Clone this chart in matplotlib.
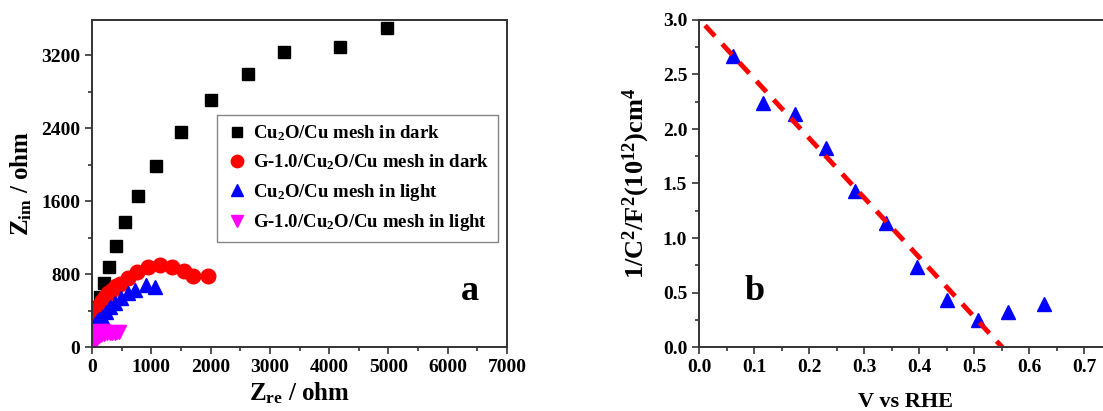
import matplotlib
matplotlib.use("Agg")
import matplotlib.pyplot as plt
from matplotlib.ticker import MultipleLocator
import numpy as np

plt.rcParams['font.family'] = ['Liberation Serif', 'DejaVu Serif']
plt.rcParams['font.weight'] = 'bold'
plt.rcParams['mathtext.fontset'] = 'custom'
plt.rcParams['mathtext.rm'] = 'Liberation Serif:bold'
plt.rcParams['mathtext.bf'] = 'Liberation Serif:bold'
plt.rcParams['mathtext.it'] = 'Liberation Serif:bold'
plt.rcParams['mathtext.default'] = 'bf'

# ---- Panel a: Nyquist data ----
dark_cu2o_re = [22, 67, 130, 207, 287, 405, 556, 770, 1074, 1496, 2002, 2636, 3243, 4182, 4975]
dark_cu2o_im = [315, 442, 551, 705, 877, 1104, 1373, 1652, 1984, 2356, 2704, 2995, 3236, 3291, 3493]

dark_g_re = [10, 25, 45, 70, 100, 135, 175, 220, 275, 335, 400, 467, 602, 754, 949, 1141, 1354, 1546, 1709, 1962]
dark_g_im = [280, 310, 345, 380, 415, 455, 500, 545, 590, 630, 665, 690, 760, 822, 880, 895, 880, 830, 778, 778]

light_cu2o_re = [8, 25, 50, 80, 120, 163, 231, 304, 388, 489, 602, 725, 905, 1062]
light_cu2o_im = [175, 210, 250, 285, 310, 332, 387, 442, 486, 534, 588, 625, 680, 661]

light_g_re = [20, 35, 55, 80, 110, 150, 200, 250, 300, 340, 380, 420, 460, 30, 60, 100, 140, 190]
light_g_im = [20, 45, 75, 100, 120, 135, 145, 150, 152, 155, 158, 160, 165, 160, 165, 168, 170, 170]

labels_a = ['Cu$_2$O/Cu mesh in dark', 'G-1.0/Cu$_2$O/Cu mesh in dark',
            'Cu$_2$O/Cu mesh in light', 'G-1.0/Cu$_2$O/Cu mesh in light']

# ---- Panel b: Mott-Schottky data ----
v_rhe = [0.061, 0.117, 0.174, 0.230, 0.284, 0.339, 0.395, 0.450, 0.506, 0.562, 0.626]
inv_c2 = [2.67, 2.24, 2.14, 1.83, 1.43, 1.14, 0.737, 0.43, 0.248, 0.324, 0.394]
fit_intercept = 3.01
fit_slope = -5.47
fit_range = [0.011, 0.551]

W, H = 1103, 411
fig = plt.figure(figsize=(W / 100, H / 100), dpi=100)

spine_col = '#333333'

def style(ax):
    for s in ax.spines.values():
        s.set_color(spine_col)
        s.set_linewidth(1.4)
    ax.tick_params(which='both', direction='out', color=spine_col, width=1.2,
                   labelsize=14, top=False, right=False)
    ax.tick_params(which='major', length=5)
    ax.tick_params(which='minor', length=3)
    for lab in ax.get_xticklabels() + ax.get_yticklabels():
        lab.set_fontweight('bold')

ax1 = fig.add_axes([92 / W, (H - 347) / H, (507 - 92) / W, (347 - 20) / H])
ax1.plot(dark_cu2o_re, dark_cu2o_im, 's', color='black', ms=9, ls='none', label=labels_a[0])
ax1.plot(dark_g_re, dark_g_im, 'o', color='#ff0000', ms=10.5, ls='none', label=labels_a[1])
ax1.plot(light_cu2o_re, light_cu2o_im, '^', color='#0000ff', ms=10, ls='none', label=labels_a[2])
ax1.plot(light_g_re, light_g_im, 'v', color='#ff00ff', ms=10, ls='none', label=labels_a[3])
ax1.set_xlim(0, 7000)
ax1.set_ylim(0, 3584)
ax1.xaxis.set_major_locator(MultipleLocator(1000))
ax1.xaxis.set_minor_locator(MultipleLocator(500))
ax1.yaxis.set_major_locator(MultipleLocator(800))
ax1.yaxis.set_minor_locator(MultipleLocator(400))
style(ax1)
ax1.set_xlabel('Z$_{re}$ / ohm', fontsize=18, fontweight='bold', labelpad=3)
ax1.set_ylabel('Z$_{im}$ / ohm', fontsize=18, fontweight='bold', labelpad=5)
leg = ax1.legend(loc='upper left', bbox_to_anchor=(0.301, 0.709), borderaxespad=0,
                 fontsize=13.5, frameon=True, fancybox=False, edgecolor='#666666',
                 handletextpad=0.3, borderpad=0.45, labelspacing=0.5,
                 handlelength=1.2, markerscale=0.85)
leg.get_frame().set_linewidth(1.0)
for t in leg.get_texts():
    t.set_fontweight('bold')
ax1.text(0.91, 0.17, 'a', transform=ax1.transAxes, fontsize=26, fontweight='bold',
         ha='center', va='center')

ax2 = fig.add_axes([699 / W, (H - 347) / H, (1112 - 699) / W, (347 - 20) / H])
ax2.plot(v_rhe, inv_c2, '^', color='#0000ff', ms=10, ls='none')
fx = np.array(fit_range)
ax2.plot(fx, fit_intercept + fit_slope * fx, ls=(0, (3, 2.2)), color='#ff0000', lw=3.5)
ax2.set_xlim(0, 0.75)
ax2.set_ylim(0, 3.0)
ax2.xaxis.set_major_locator(MultipleLocator(0.1))
ax2.xaxis.set_minor_locator(MultipleLocator(0.05))
ax2.yaxis.set_major_locator(MultipleLocator(0.5))
ax2.yaxis.set_minor_locator(MultipleLocator(0.25))
ax2.xaxis.set_major_formatter(matplotlib.ticker.FormatStrFormatter('%.1f'))
ax2.yaxis.set_major_formatter(matplotlib.ticker.FormatStrFormatter('%.1f'))
style(ax2)
ax2.set_xlabel('V vs RHE', fontsize=16, fontweight='bold', labelpad=12)
ax2.set_ylabel('1/C$^2$/F$^2$(10$^{12}$)cm$^4$', fontsize=19, fontweight='bold', labelpad=8)
ax2.text(0.135, 0.17, 'b', transform=ax2.transAxes, fontsize=26, fontweight='bold',
         ha='center', va='center')

fig.savefig('out.png', dpi=100)
